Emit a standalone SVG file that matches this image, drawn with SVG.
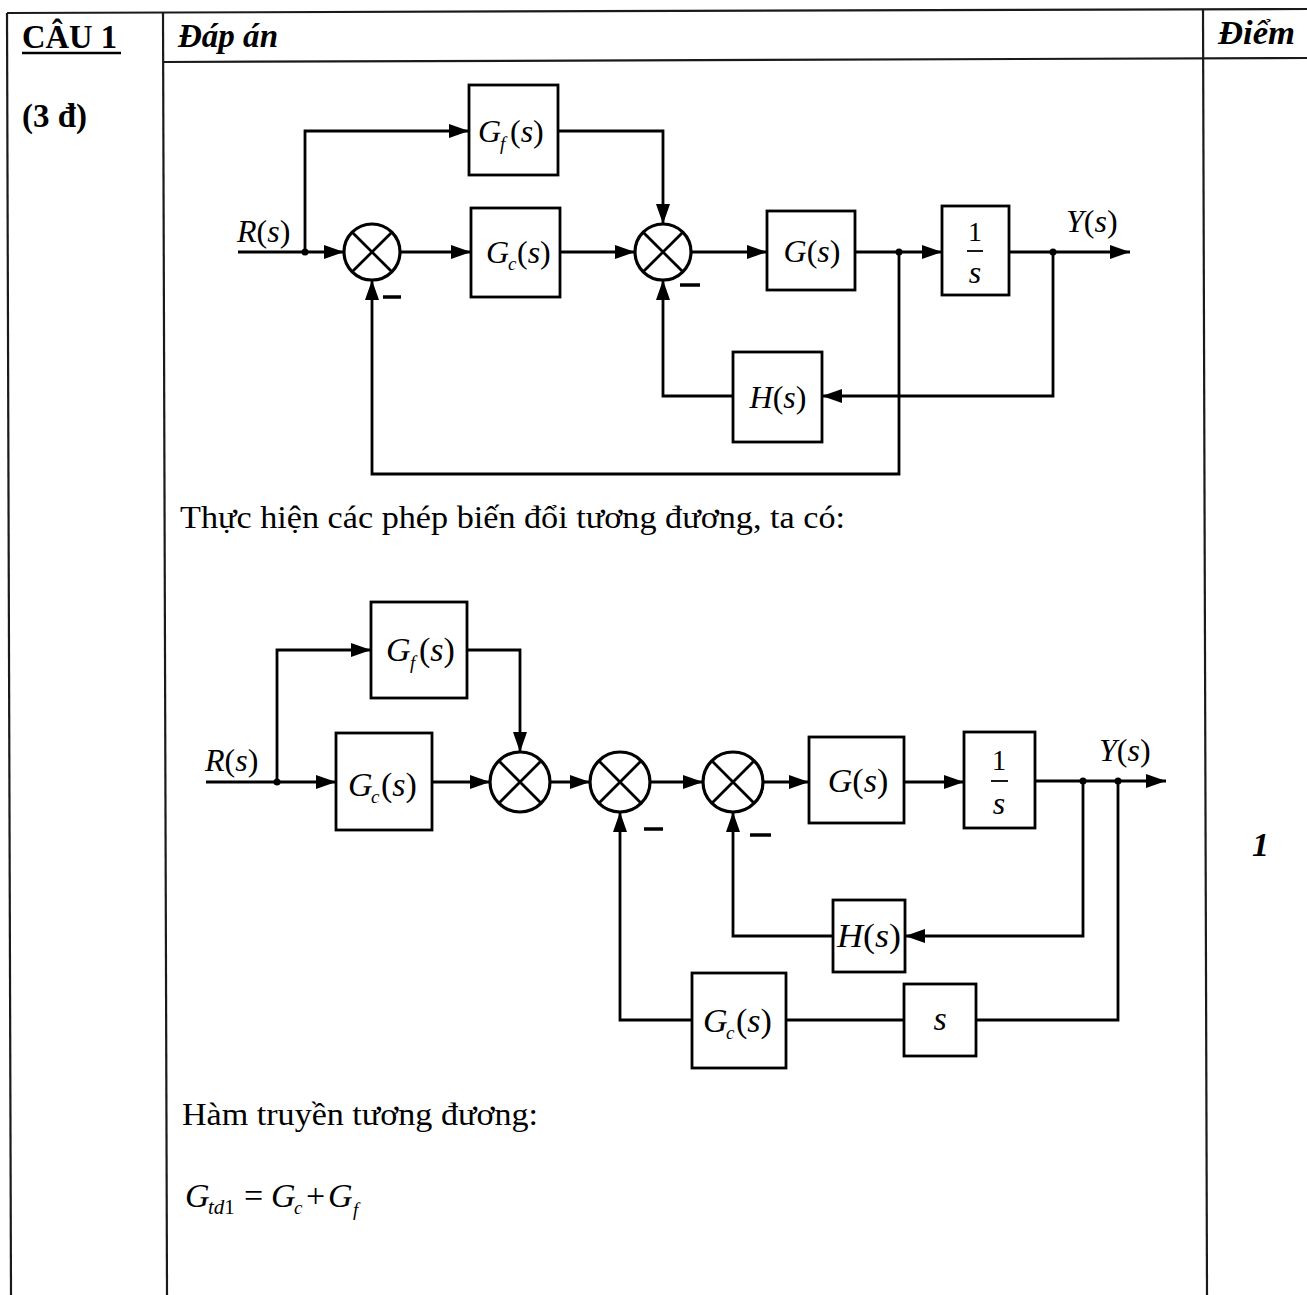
<svg xmlns="http://www.w3.org/2000/svg" width="1307" height="1295" viewBox="0 0 1307 1295">
<style>
.tbl{stroke:#1a1a1a;stroke-width:2.2;fill:none}
.ln{stroke:#000;stroke-width:2.8;fill:none}
.box{fill:#fff;stroke:#000;stroke-width:2.8}
.sum circle{fill:#fff;stroke:#000;stroke-width:3.2}
.sum path{stroke:#000;stroke-width:2.8;fill:none}
.minus{stroke:#000;stroke-width:3.5}
.dot{fill:#000}
text{font-family:"Liberation Serif","DejaVu Serif",serif;fill:#000}
.m{font-style:italic;font-size:32px}
.m2{font-style:italic;font-size:34px}
.up{font-style:normal}
.sub{font-style:italic;font-size:19px}
.body{font-size:32px}
.hdr{font-weight:bold;font-size:34px}
</style>
<defs>
<marker id="ah" viewBox="0 0 20 14" refX="20" refY="7" markerWidth="20" markerHeight="14" orient="auto" markerUnits="userSpaceOnUse">
<path d="M0,0 L20,7 L0,14 z" fill="#000"/>
</marker>
</defs>
<rect width="1307" height="1295" fill="#fff"/>

<g id="table">
<line class="tbl" x1="7" y1="13" x2="1307" y2="9"/>
<line class="tbl" x1="163" y1="62" x2="1307" y2="58"/>
<line class="tbl" x1="7" y1="13" x2="11" y2="1295"/>
<line class="tbl" x1="163" y1="13" x2="167" y2="1295"/>
<line class="tbl" x1="1203" y1="10" x2="1207" y2="1295"/>
<text x="22" y="48" class="hdr" textLength="95" lengthAdjust="spacingAndGlyphs">CÂU 1</text>
<line x1="22" y1="53" x2="121" y2="53" stroke="#000" stroke-width="2.5"/>
<text x="178" y="47" class="hdr" font-style="italic" textLength="100" lengthAdjust="spacingAndGlyphs">Đáp án</text>
<text x="1218" y="44" class="hdr" font-style="italic" textLength="77" lengthAdjust="spacingAndGlyphs">Điểm</text>
<text x="22" y="127" class="hdr" font-size="32" textLength="65" lengthAdjust="spacingAndGlyphs">(3 đ)</text>
<text x="1252" y="856" class="hdr" font-style="italic">1</text>
</g>

<g id="connectors-top">
<line class="ln" x1="238" y1="252" x2="344" y2="252" marker-end="url(#ah)"/>
<path class="ln" d="M305,252 V131 H469" marker-end="url(#ah)"/>
<path class="ln" d="M558,131 H663 V224" marker-end="url(#ah)"/>
<line class="ln" x1="400" y1="252" x2="471" y2="252" marker-end="url(#ah)"/>
<line class="ln" x1="560" y1="252" x2="635" y2="252" marker-end="url(#ah)"/>
<line class="ln" x1="691" y1="252" x2="767" y2="252" marker-end="url(#ah)"/>
<line class="ln" x1="855" y1="252" x2="942" y2="252" marker-end="url(#ah)"/>
<line class="ln" x1="1009" y1="252" x2="1130" y2="252" marker-end="url(#ah)"/>
<path class="ln" d="M1053,252 V396 H822" marker-end="url(#ah)"/>
<path class="ln" d="M733,396 H663 V280" marker-end="url(#ah)"/>
<path class="ln" d="M899,252 V474 H372 V280" marker-end="url(#ah)"/>
<circle class="dot" cx="305" cy="252" r="3.5"/>
<circle class="dot" cx="899" cy="252" r="3.5"/>
<circle class="dot" cx="1053" cy="252" r="3.5"/>
<line class="minus" x1="383" y1="297" x2="401" y2="297"/>
<line class="minus" x1="680" y1="285" x2="700" y2="285"/>
<text x="237" y="242" class="m">R<tspan class="up">(</tspan>s<tspan class="up">)</tspan></text>
<text x="1066" y="232" class="m">Y<tspan class="up">(</tspan>s<tspan class="up">)</tspan></text>
</g>

<g id="sum1-top" class="sum">
<circle cx="372" cy="252" r="28"/>
<path d="M352.2,232.2 L391.8,271.8 M391.8,232.2 L352.2,271.8"/>
</g>
<g id="sum2-top" class="sum">
<circle cx="663" cy="252" r="28"/>
<path d="M643.2,232.2 L682.8,271.8 M682.8,232.2 L643.2,271.8"/>
</g>
<g id="Gf-top">
<rect class="box" x="469" y="85" width="89" height="90"/>
<text x="478" y="142" class="m">G</text><text x="500" y="150" class="sub">f</text><text x="510" y="142" class="m"><tspan class="up">(</tspan>s<tspan class="up">)</tspan></text>
</g>
<g id="Gc-top">
<rect class="box" x="471" y="208" width="89" height="89"/>
<text x="486" y="263" class="m">G</text><text x="508" y="270" class="sub">c</text><text x="517" y="263" class="m"><tspan class="up">(</tspan>s<tspan class="up">)</tspan></text>
</g>
<g id="G-top">
<rect class="box" x="767" y="211" width="88" height="79"/>
<text x="812" y="262" class="m" text-anchor="middle">G<tspan class="up">(</tspan>s<tspan class="up">)</tspan></text>
</g>
<g id="integ-top">
<rect class="box" x="942" y="206" width="67" height="89"/>
<text x="975" y="241" font-size="28" text-anchor="middle">1</text>
<line x1="967" y1="251" x2="983" y2="251" stroke="#000" stroke-width="1.8"/>
<text x="975" y="283" class="m" font-size="30" text-anchor="middle">s</text>
</g>
<g id="H-top">
<rect class="box" x="733" y="352" width="89" height="90"/>
<text x="778" y="408" class="m" text-anchor="middle">H<tspan class="up">(</tspan>s<tspan class="up">)</tspan></text>
</g>

<text x="180" y="528" class="body" textLength="665" lengthAdjust="spacingAndGlyphs">Thực hiện các phép biến đổi tương đương, ta có:</text>

<g id="connectors-bottom">
<line class="ln" x1="206" y1="782" x2="336" y2="782" marker-end="url(#ah)"/>
<path class="ln" d="M277,782 V650 H371" marker-end="url(#ah)"/>
<path class="ln" d="M467,650 H520 V752" marker-end="url(#ah)"/>
<line class="ln" x1="432" y1="782" x2="490" y2="782" marker-end="url(#ah)"/>
<line class="ln" x1="550" y1="782" x2="590" y2="782" marker-end="url(#ah)"/>
<line class="ln" x1="650" y1="782" x2="703" y2="782" marker-end="url(#ah)"/>
<line class="ln" x1="763" y1="782" x2="809" y2="782" marker-end="url(#ah)"/>
<line class="ln" x1="904" y1="782" x2="964" y2="782" marker-end="url(#ah)"/>
<line class="ln" x1="1035" y1="781" x2="1166" y2="781" marker-end="url(#ah)"/>
<path class="ln" d="M1083,781 V936 H905" marker-end="url(#ah)"/>
<path class="ln" d="M833,936 H733 V812" marker-end="url(#ah)"/>
<path class="ln" d="M1118,781 V1020 H976 M904,1020 H786 M692,1020 H620 V812" marker-end="url(#ah)"/>
<circle class="dot" cx="277" cy="782" r="3.5"/>
<circle class="dot" cx="1083" cy="781" r="3.5"/>
<circle class="dot" cx="1118" cy="781" r="3.5"/>
<line class="minus" x1="644" y1="829" x2="663" y2="829"/>
<line class="minus" x1="750" y1="835" x2="771" y2="835"/>
<text x="205" y="771" class="m">R<tspan class="up">(</tspan>s<tspan class="up">)</tspan></text>
<text x="1099" y="761" class="m">Y<tspan class="up">(</tspan>s<tspan class="up">)</tspan></text>
</g>

<g id="Gf-bottom">
<rect class="box" x="371" y="602" width="96" height="96"/>
<text x="386" y="661" class="m2">G</text><text x="410" y="669" class="sub">f</text><text x="419" y="661" class="m2"><tspan class="up">(</tspan>s<tspan class="up">)</tspan></text>
</g>
<g id="Gc-bottom">
<rect class="box" x="336" y="733" width="96" height="97"/>
<text x="348" y="796" class="m2">G</text><text x="371" y="803" class="sub">c</text><text x="381" y="796" class="m2"><tspan class="up">(</tspan>s<tspan class="up">)</tspan></text>
</g>
<g id="sumA-bottom" class="sum">
<circle cx="520" cy="782" r="30"/>
<path d="M498.8,760.8 L541.2,803.2 M541.2,760.8 L498.8,803.2"/>
</g>
<g id="sumB-bottom" class="sum">
<circle cx="620" cy="782" r="30"/>
<path d="M598.8,760.8 L641.2,803.2 M641.2,760.8 L598.8,803.2"/>
</g>
<g id="sumC-bottom" class="sum">
<circle cx="733" cy="782" r="30"/>
<path d="M711.8,760.8 L754.2,803.2 M754.2,760.8 L711.8,803.2"/>
</g>
<g id="G-bottom">
<rect class="box" x="809" y="737" width="95" height="86"/>
<text x="858" y="792" class="m2" text-anchor="middle">G<tspan class="up">(</tspan>s<tspan class="up">)</tspan></text>
</g>
<g id="integ-bottom">
<rect class="box" x="964" y="732" width="71" height="96"/>
<text x="999" y="770" font-size="29" text-anchor="middle">1</text>
<line x1="991" y1="781" x2="1008" y2="781" stroke="#000" stroke-width="1.8"/>
<text x="999" y="814" class="m" font-size="31" text-anchor="middle">s</text>
</g>
<g id="H-bottom">
<rect class="box" x="833" y="900" width="72" height="72"/>
<text x="869" y="947" class="m2" text-anchor="middle" textLength="64" lengthAdjust="spacingAndGlyphs">H<tspan class="up">(</tspan>s<tspan class="up">)</tspan></text>
</g>
<g id="s-bottom">
<rect class="box" x="904" y="984" width="72" height="72"/>
<text x="940" y="1030" class="m2" text-anchor="middle">s</text>
</g>
<g id="Gc2-bottom">
<rect class="box" x="692" y="973" width="94" height="95"/>
<text x="703" y="1032" class="m2">G</text><text x="726" y="1039" class="sub">c</text><text x="736" y="1032" class="m2"><tspan class="up">(</tspan>s<tspan class="up">)</tspan></text>
</g>

<text x="182" y="1125" class="body" textLength="356" lengthAdjust="spacingAndGlyphs">Hàm truyền tương đương:</text>
<g id="formula">
<text x="185" y="1207" class="m2">G</text>
<text x="208" y="1214" font-size="21"><tspan font-style="italic">td</tspan>1</text>
<text x="244" y="1207" font-size="34">=</text>
<text x="271" y="1207" class="m2">G</text>
<text x="294" y="1214" class="sub" font-size="21">c</text>
<text x="306" y="1207" font-size="34">+</text>
<text x="328" y="1207" class="m2">G</text>
<text x="353" y="1216" class="sub" font-size="21">f</text>
</g>
</svg>
